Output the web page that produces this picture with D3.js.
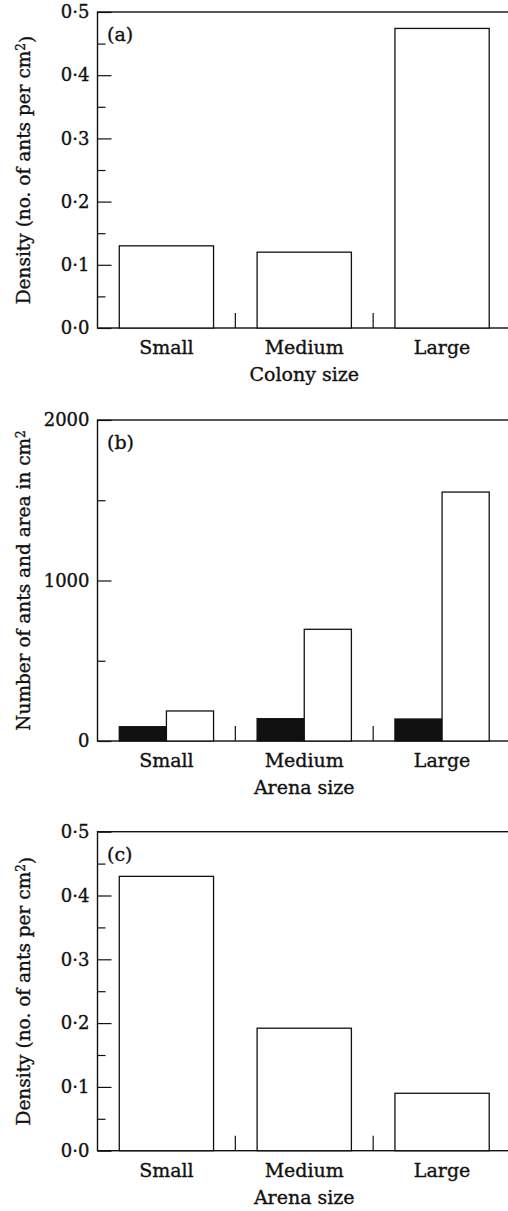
<!DOCTYPE html>
<html>
<head>
<meta charset="utf-8">
<script src="https://cdn.jsdelivr.net/npm/d3@7"></script>
<style>
  body { margin: 0; background: #fff; }
  text { font-family: "DejaVu Serif", serif; fill: #111; stroke: #111; stroke-width: 0.35px; }
</style>
</head>
<body>
<svg id="fig" width="508" height="1211"></svg>
<script>
// Дані
const colonySizes = ["Small", "Medium", "Large"];
const colonyDensity = [0.13, 0.12, 0.474];

const arenaSizes = ["Small", "Medium", "Large"];
const arenaAnts = [89, 139, 137];
const arenaArea = [187, 696, 1551];
const arenaDensity = [0.43, 0.192, 0.09];

const densityTicks = [0, 0.1, 0.2, 0.3, 0.4, 0.5];
const densityMinor = [0.05, 0.15, 0.25, 0.35, 0.45];
const countTicks = [0, 1000, 2000];
const countMinor = [500, 1500];

const svg = d3.select("#fig");
const left = 97.5, right = 511;
const fmtDensity = d => d3.format(".1f")(d).replace(".", "\u00b7");
const fmtCount = d => String(d);

function drawPanel(p) {
    const g = svg.append("g");
    const y = d3.scaleLinear().domain(p.domain).range([p.bottom, p.top]);
    const x = d3.scaleBand().domain(p.cats).range([left, right])
        .paddingInner(0.316).paddingOuter(0.158);

    // рамка
    g.append("rect")
        .attr("x", left).attr("y", p.top)
        .attr("width", right - left + 4).attr("height", p.bottom - p.top)
        .attr("fill", "none").attr("stroke", "#111").attr("stroke-width", 1.4);

    // основні та проміжні поділки
    const major = g.append("g").attr("transform", `translate(${left},0)`)
        .call(d3.axisLeft(y).tickValues(p.ticks).tickFormat(p.fmt)
            .tickSize(-14).tickSizeOuter(0).tickPadding(8));
    major.select(".domain").remove();
    major.selectAll("line").attr("stroke", "#111").attr("stroke-width", 1.2);
    major.selectAll("text").style("font-size", "18px").attr("fill", "#111");

    const minor = g.append("g").attr("transform", `translate(${left},0)`)
        .call(d3.axisLeft(y).tickValues(p.minor).tickFormat("")
            .tickSize(-8).tickSizeOuter(0));
    minor.select(".domain").remove();
    minor.selectAll("line").attr("stroke", "#111").attr("stroke-width", 1.2);

    // стовпці
    const sub = d3.scaleBand().domain(d3.range(p.series.length))
        .range([0, x.bandwidth()]);
    p.series.forEach((s, si) => {
        g.append("g").selectAll("rect")
            .data(p.cats.map((c, i) => ({ c, v: s.values[i] })))
            .enter().append("rect")
            .attr("x", d => x(d.c) + sub(si))
            .attr("width", sub.bandwidth())
            .attr("y", d => y(d.v))
            .attr("height", d => y(0) - y(d.v))
            .attr("fill", s.fill)
            .attr("stroke", "#111").attr("stroke-width", 1.3);
    });

    // роздільники між групами
    g.append("g").selectAll("line")
        .data([1, 2])
        .enter().append("line")
        .attr("x1", i => left + x.step() * i).attr("x2", i => left + x.step() * i)
        .attr("y1", p.bottom).attr("y2", p.bottom - 15)
        .attr("stroke", "#111").attr("stroke-width", 1.2);

    // підписи категорій
    const xa = g.append("g").attr("transform", `translate(0,${p.bottom})`)
        .call(d3.axisBottom(x).tickSize(0).tickPadding(12.5));
    xa.select(".domain").remove();
    xa.selectAll("text").style("font-size", "19px").attr("fill", "#111");

    g.append("text")
        .attr("x", (left + right) / 2).attr("y", p.bottom + 53)
        .attr("text-anchor", "middle").style("font-size", "19px")
        .text(p.xTitle);

    g.append("text")
        .attr("x", 107).attr("y", p.top + 29)
        .style("font-size", "19px")
        .text(p.letter);

    const t = g.append("text")
        .attr("transform", `translate(30,${(p.top + p.bottom) / 2}) rotate(-90)`)
        .attr("text-anchor", "middle").style("font-size", "18.5px");
    t.append("tspan").text(p.yTitle);
    t.append("tspan").attr("dy", "-0.45em").style("font-size", "12px").text("2");
    if (p.yTail) t.append("tspan").attr("dy", "0.45em").text(p.yTail);
}

drawPanel({
    top: 12, bottom: 328, domain: [0, 0.5],
    ticks: densityTicks, minor: densityMinor, fmt: fmtDensity,
    cats: colonySizes, series: [{ values: colonyDensity, fill: "#fff" }],
    xTitle: "Colony size", letter: "(a)",
    yTitle: "Density (no. of ants per cm", yTail: ")"
});

drawPanel({
    top: 420, bottom: 741, domain: [0, 2000],
    ticks: countTicks, minor: countMinor, fmt: fmtCount,
    cats: arenaSizes,
    series: [{ values: arenaAnts, fill: "#111" }, { values: arenaArea, fill: "#fff" }],
    xTitle: "Arena size", letter: "(b)",
    yTitle: "Number of ants and area in cm", yTail: null
});

drawPanel({
    top: 831.7, bottom: 1150.7, domain: [0, 0.5],
    ticks: densityTicks, minor: densityMinor, fmt: fmtDensity,
    cats: arenaSizes, series: [{ values: arenaDensity, fill: "#fff" }],
    xTitle: "Arena size", letter: "(c)",
    yTitle: "Density (no. of ants per cm", yTail: ")"
});
</script>
</body>
</html>
